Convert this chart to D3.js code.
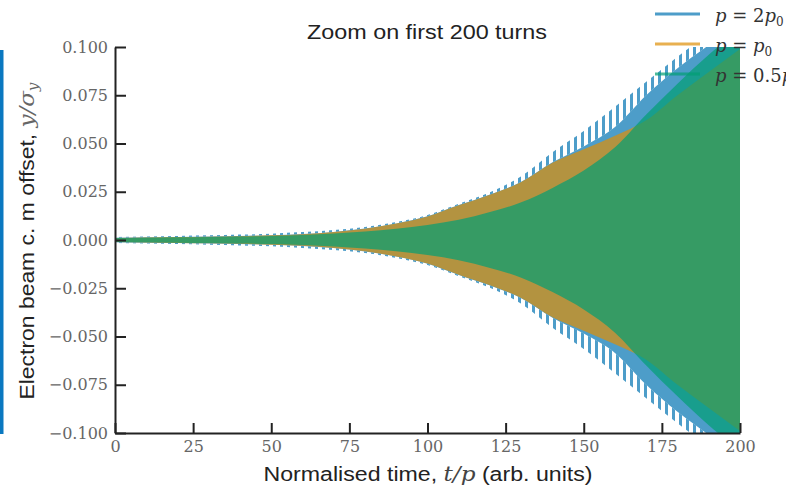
<!DOCTYPE html>
<html>
<head>
<meta charset="utf-8">
<script src="https://cdn.jsdelivr.net/npm/d3@7.9.0/dist/d3.min.js"></script>
<style>
  body { margin: 0; background: #fff; }
  svg { display: block; }
</style>
</head>
<body>
<div id="chart"></div>
<script>
// envelope amplitudes (y/sigma_y), every 10 turns
const turns = [0, 10, 20, 30, 40, 50, 60, 70, 80, 90, 100, 110, 120, 130, 140, 150, 160, 170, 180, 190, 200];
const bluePeak = [0.0016, 0.0018, 0.0021, 0.0024, 0.0028, 0.0033, 0.0041, 0.0052, 0.0068, 0.0093, 0.0130, 0.0188, 0.0248, 0.0330, 0.0455, 0.0565, 0.0690, 0.0820, 0.0950, 0.1070, 0.1200];
const blueBody = [0.0012, 0.0014, 0.0016, 0.0018, 0.0021, 0.0025, 0.0031, 0.0042, 0.0059, 0.0086, 0.0123, 0.0181, 0.0236, 0.0302, 0.0403, 0.0485, 0.0585, 0.0750, 0.0890, 0.1010, 0.1130];
const orangeAmp = [0.0011, 0.0013, 0.0015, 0.0017, 0.0020, 0.0024, 0.0030, 0.0041, 0.0058, 0.0085, 0.0122, 0.0180, 0.0235, 0.0300, 0.0400, 0.0470, 0.0540, 0.0620, 0.0750, 0.0870, 0.0990];
const greenAmp = [0.0010, 0.0012, 0.0014, 0.0016, 0.0018, 0.0021, 0.0026, 0.0034, 0.0044, 0.0058, 0.0078, 0.0105, 0.0145, 0.0195, 0.0270, 0.0360, 0.0480, 0.0650, 0.0810, 0.0960, 0.1090];

const xTicks = [0, 25, 50, 75, 100, 125, 150, 175, 200];
const yTicks = [-0.1, -0.075, -0.05, -0.025, 0, 0.025, 0.05, 0.075, 0.1];
const legendItems = [
  { label: ['2', 'p', '0'], color: '#0173B2' },
  { label: ['', 'p', '0'], color: '#DE8F05' },
  { label: ['0.5', 'p', '0'], color: '#029E73' }
];

const width = 786, height = 489;
const margin = { left: 115, right: 46, top: 47, bottom: 56 };

const svg = d3.select('#chart')
  .append('svg')
  .attr('width', width)
  .attr('height', height);

const x = d3.scaleLinear().domain([0, 200]).range([margin.left, width - margin.right]);
const y = d3.scaleLinear().domain([-0.1, 0.1]).range([height - margin.bottom, margin.top]);

const defs = svg.append('defs');
defs.append('clipPath').attr('id', 'plot-clip')
  .append('rect')
  .attr('x', x(0)).attr('y', y(0.1))
  .attr('width', x(200) - x(0)).attr('height', y(-0.1) - y(0.1));

// comb of oscillation peaks for p = 2p0
defs.append('pattern')
  .attr('id', 'spikes')
  .attr('patternUnits', 'userSpaceOnUse')
  .attr('width', 7).attr('height', 10)
  .append('rect')
  .attr('width', 3).attr('height', 10)
  .attr('fill', '#0173B2').attr('fill-opacity', 0.7);

// left blue strip (edge of the slide)
svg.append('rect')
  .attr('x', 0).attr('y', 50).attr('width', 3.5).attr('height', 384)
  .attr('fill', '#0a78c0');

const plot = svg.append('g').attr('clip-path', 'url(#plot-clip)');

const band = d3.area()
  .x((d, i) => x(turns[i]))
  .y0(d => y(-d))
  .y1(d => y(d))
  .curve(d3.curveMonotoneX);

const upperComb = d3.area()
  .x((d, i) => x(turns[i]))
  .y0((d, i) => y(blueBody[i]))
  .y1(d => y(d))
  .curve(d3.curveMonotoneX);

const lowerComb = d3.area()
  .x((d, i) => x(turns[i]))
  .y0((d, i) => y(-blueBody[i]))
  .y1(d => y(-d))
  .curve(d3.curveMonotoneX);

// p = 2p0
plot.append('path').attr('d', band(blueBody))
  .attr('fill', '#0173B2').attr('fill-opacity', 0.7);
plot.append('path').attr('d', upperComb(bluePeak)).attr('fill', 'url(#spikes)');
plot.append('path').attr('d', lowerComb(bluePeak)).attr('fill', 'url(#spikes)');

// p = p0
plot.append('path').attr('d', band(orangeAmp))
  .attr('fill', '#DE8F05').attr('fill-opacity', 0.7);

// p = 0.5p0
plot.append('path').attr('d', band(greenAmp))
  .attr('fill', '#029E73').attr('fill-opacity', 0.7);

// axes
const fmt = d3.format('.3f');
const yAxis = svg.append('g')
  .attr('transform', `translate(${x(0)},0)`)
  .call(d3.axisLeft(y).tickValues(yTicks).tickFormat(fmt).tickSizeInner(-11).tickSizeOuter(0).tickPadding(7));

const xAxis = svg.append('g')
  .attr('transform', `translate(0,${y(-0.1)})`)
  .call(d3.axisBottom(x).tickValues(xTicks).tickFormat(d3.format('d')).tickSizeInner(-10).tickSizeOuter(0).tickPadding(8));

[xAxis, yAxis].forEach(ax => {
  ax.select('.domain').attr('stroke', '#222').attr('stroke-width', 2);
  ax.selectAll('.tick line').attr('stroke', '#222').attr('stroke-width', 2);
  ax.selectAll('.tick text')
    .attr('font-family', 'DejaVu Serif')
    .attr('font-size', 16)
    .attr('fill', '#666');
});

// title
svg.append('text')
  .attr('x', 427).attr('y', 39)
  .attr('text-anchor', 'middle')
  .attr('font-family', 'Liberation Sans')
  .attr('font-size', 20)
  .attr('textLength', 240)
  .attr('lengthAdjust', 'spacingAndGlyphs')
  .attr('fill', '#222')
  .text('Zoom on first 200 turns');

// x label
const xl = svg.append('text')
  .attr('x', 428).attr('y', 481)
  .attr('text-anchor', 'middle')
  .attr('font-family', 'Liberation Sans')
  .attr('font-size', 20)
  .attr('textLength', 329)
  .attr('lengthAdjust', 'spacingAndGlyphs')
  .attr('fill', '#222');
xl.append('tspan').text('Normalised time, ');
xl.append('tspan').attr('font-family', 'DejaVu Serif').attr('font-style', 'italic').attr('fill', '#444').text('t/p');
xl.append('tspan').text(' (arb. units)');

// y label
const yl = svg.append('text')
  .attr('transform', 'translate(34,241) rotate(-90)')
  .attr('text-anchor', 'middle')
  .attr('font-family', 'Liberation Sans')
  .attr('font-size', 21)
  .attr('textLength', 317)
  .attr('lengthAdjust', 'spacingAndGlyphs')
  .attr('fill', '#222');
yl.append('tspan').text('Electron beam c. m offset, ');
yl.append('tspan').attr('font-family', 'DejaVu Serif').attr('font-style', 'italic').attr('fill', '#666').text('y/σ');
yl.append('tspan').attr('font-family', 'DejaVu Serif').attr('font-style', 'italic').attr('fill', '#666')
  .attr('font-size', 14).attr('dy', 4).text('y');

// legend
const legend = svg.append('g');
legendItems.forEach((d, i) => {
  const ly = 14 + i * 30;
  legend.append('line')
    .attr('x1', 655).attr('x2', 700).attr('y1', ly).attr('y2', ly)
    .attr('stroke', d.color).attr('stroke-opacity', 0.7).attr('stroke-width', 3);
  const t = legend.append('text')
    .attr('x', 715).attr('y', ly + 8)
    .attr('font-family', 'DejaVu Serif')
    .attr('font-size', 18)
    .attr('fill', '#333');
  t.append('tspan').attr('font-style', 'italic').text('p');
  t.append('tspan').text(' = ' + d.label[0]);
  t.append('tspan').attr('font-style', 'italic').text(d.label[1]);
  t.append('tspan').attr('font-size', 12).attr('dy', 4).text(d.label[2]);
});
</script>
</body>
</html>
